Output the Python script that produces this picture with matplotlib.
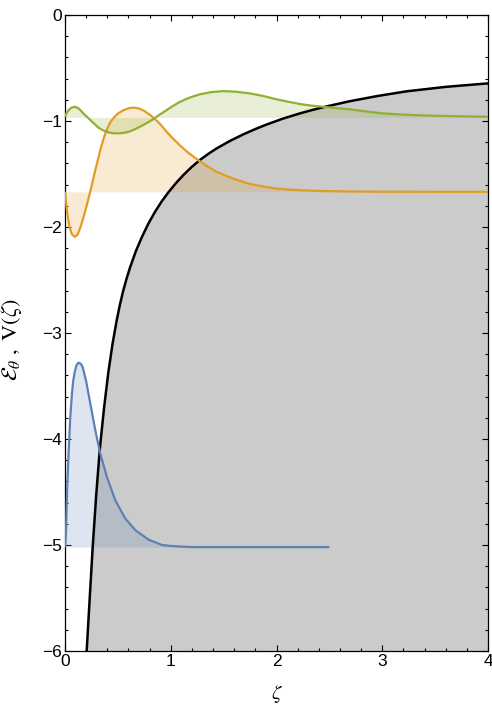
import matplotlib
matplotlib.use("Agg")
import matplotlib.pyplot as plt
from matplotlib.ticker import MultipleLocator

# ---- data ----
v_zeta = [0.205, 0.232, 0.262, 0.295, 0.33, 0.37, 0.41, 0.45, 0.489, 0.52, 0.55, 0.585, 0.615,
          0.67, 0.728, 0.79, 0.854, 0.915, 0.98, 1.05, 1.119, 1.2, 1.277, 1.355, 1.435, 1.56,
          1.686, 1.8, 1.907, 2.06, 2.222, 2.35, 2.475, 2.695, 2.95, 3.23, 3.6, 4.0]
v_vals = [-6.0, -5.53, -5.02, -4.53, -4.085, -3.7, -3.37, -3.1, -2.88, -2.73, -2.603, -2.478,
          -2.382, -2.228, -2.093, -1.965, -1.852, -1.758, -1.67, -1.585, -1.51, -1.432, -1.367,
          -1.31, -1.258, -1.188, -1.126, -1.076, -1.033, -0.978, -0.928, -0.893, -0.862,
          -0.813, -0.765, -0.72, -0.678, -0.645]

blue_E = -5.02
blue_zeta = [0.0, 0.009, 0.013, 0.022, 0.035, 0.05, 0.066, 0.078, 0.091, 0.11, 0.129, 0.148,
             0.167, 0.199, 0.24, 0.287, 0.334, 0.397, 0.476, 0.57, 0.665, 0.791, 0.917, 1.01,
             1.2, 1.5, 2.0, 2.5]
blue_vals = [-5.02, -4.9, -4.74, -4.42, -4.11, -3.79, -3.57, -3.45, -3.37, -3.3, -3.28, -3.29,
             -3.32, -3.45, -3.67, -3.92, -4.14, -4.36, -4.58, -4.75, -4.86, -4.95, -5.0, -5.01,
             -5.02, -5.02, -5.02, -5.02]

orange_E = -1.668
orange_zeta = [0.0, 0.02, 0.04, 0.065, 0.093, 0.12, 0.15, 0.18, 0.21, 0.245, 0.28, 0.31, 0.34,
               0.37, 0.4, 0.43, 0.46, 0.5, 0.55, 0.6, 0.646, 0.7, 0.75, 0.8, 0.85, 0.9, 0.96,
               1.02, 1.087, 1.16, 1.26, 1.35, 1.435, 1.53, 1.624, 1.73, 1.844, 1.98, 2.128, 2.3,
               2.443, 2.7, 3.0, 3.5, 4.0]
orange_vals = [-1.668, -1.86, -1.99, -2.07, -2.093, -2.07, -1.99, -1.89, -1.78, -1.64, -1.49,
               -1.37, -1.25, -1.15, -1.07, -1.01, -0.97, -0.93, -0.9, -0.88, -0.873, -0.882,
               -0.905, -0.94, -0.98, -1.03, -1.1, -1.165, -1.23, -1.295, -1.37, -1.43, -1.48,
               -1.52, -1.555, -1.59, -1.613, -1.635, -1.648, -1.656, -1.661, -1.665, -1.667,
               -1.668, -1.668]

green_E = -0.966
green_zeta = [0.0, 0.015, 0.035, 0.06, 0.091, 0.12, 0.145, 0.18, 0.224, 0.27, 0.318, 0.365,
              0.413, 0.46, 0.508, 0.555, 0.602, 0.65, 0.697, 0.76, 0.823, 0.88, 0.949, 1.01,
              1.075, 1.14, 1.2, 1.277, 1.38, 1.497, 1.62, 1.749, 1.88, 2.002, 2.11, 2.222,
              2.33, 2.443, 2.57, 2.695, 2.85, 3.0, 3.2, 3.4, 3.7, 4.0]
green_vals = [-0.96, -0.925, -0.897, -0.875, -0.866, -0.875, -0.897, -0.935, -0.976, -1.02,
              -1.064, -1.09, -1.108, -1.116, -1.117, -1.112, -1.102, -1.083, -1.06, -1.027,
              -0.99, -0.95, -0.905, -0.865, -0.826, -0.795, -0.772, -0.748, -0.728, -0.718,
              -0.724, -0.74, -0.765, -0.796, -0.818, -0.84, -0.855, -0.866, -0.879, -0.89,
              -0.91, -0.928, -0.94, -0.948, -0.955, -0.96]

x_ticks = [0, 1, 2, 3, 4]
y_ticks = [0, -1, -2, -3, -4, -5, -6]

# ---- figure ----
plt.rcParams['font.family'] = ['Liberation Sans', 'DejaVu Sans']
plt.rcParams['mathtext.fontset'] = 'stix'

fig = plt.figure(figsize=(4.92, 7.09), dpi=100)
ax = fig.add_axes([65 / 492, 1 - 651 / 709, 423 / 492, 636 / 709])

gray = '#cbcbcb'
c_blue = '#5E81B5'
c_orange = '#E19C24'
c_green = '#8FB032'

ax.fill_between(v_zeta, v_vals, -6, color=gray, lw=0, zorder=1)

for xs, ys, E, c in [(blue_zeta, blue_vals, blue_E, c_blue),
                     (orange_zeta, orange_vals, orange_E, c_orange),
                     (green_zeta, green_vals, green_E, c_green)]:
    ax.fill_between(xs, ys, E, color=c, alpha=0.2, lw=0, zorder=2)

ax.plot(v_zeta, v_vals, color='black', lw=1.8, zorder=3, solid_joinstyle='round')
for xs, ys, c in [(blue_zeta, blue_vals, c_blue),
                  (orange_zeta, orange_vals, c_orange),
                  (green_zeta, green_vals, c_green)]:
    ax.plot(xs, ys, color=c, lw=1.6, zorder=4, solid_capstyle='butt', solid_joinstyle='round')

ax.set_xlim(0, 4)
ax.set_ylim(-6, 0)
ax.set_xticks(x_ticks)
ax.set_yticks(y_ticks)
ax.set_xticklabels([str(t) for t in x_ticks])
ax.set_yticklabels([str(t).replace('-', '\u2212') for t in y_ticks])
ax.xaxis.set_minor_locator(MultipleLocator(0.2))
ax.yaxis.set_minor_locator(MultipleLocator(0.2))
ax.tick_params(which='both', direction='in', top=True, right=True, labelsize=12.5, width=0.8,
               pad=2)
ax.tick_params(which='major', length=4.5)
ax.tick_params(which='minor', length=2.5)
for s in ax.spines.values():
    s.set_linewidth(0.9)

ax.set_xlabel(r'$\zeta$', fontsize=15, labelpad=10)
ax.set_ylabel(r'$\mathcal{E}_{\theta}\ ,\ \mathrm{V}(\zeta)$', fontsize=16)
ax.yaxis.set_label_coords(-0.097, 0.49)

fig.savefig('out.png', dpi=100)
